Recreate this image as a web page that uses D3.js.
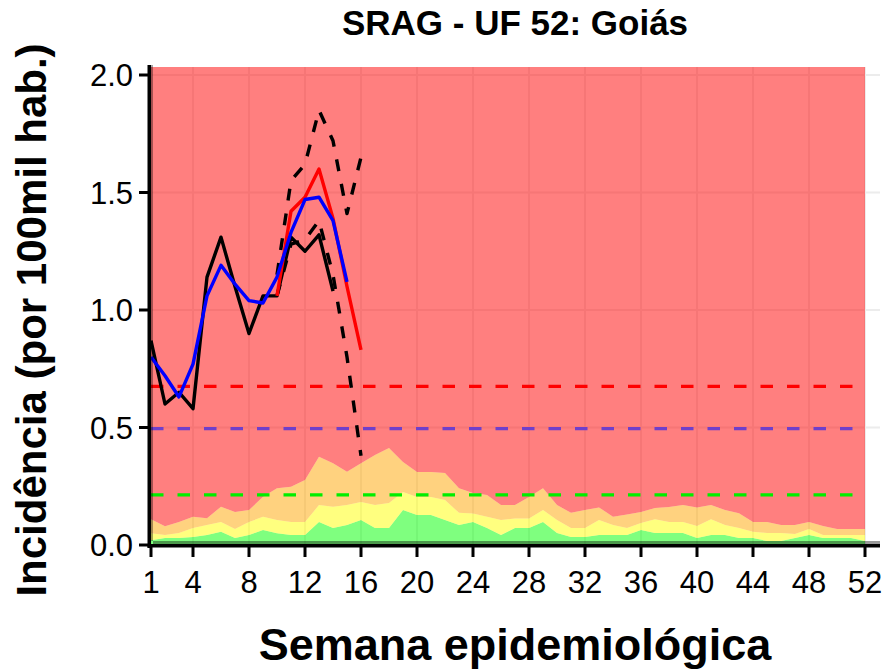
<!DOCTYPE html>
<html><head><meta charset="utf-8">
<script src="https://cdn.jsdelivr.net/npm/d3@7"></script>
<style>
body{margin:0;background:#fff}
svg{display:block}
text{font-family:"Liberation Sans",Arial,Helvetica,sans-serif;fill:#000}
</style>
</head><body>
<svg id="chart" width="886" height="669"></svg>
<script>
// ---------- data ----------
const weeks = [1,2,3,4,5,6,7,8,9,10,11,12,13,14,15,16,17,18,19,20,21,22,23,24,25,26,
  27,28,29,30,31,32,33,34,35,36,37,38,39,40,41,42,43,44,45,46,47,48,49,50,51,52];
const greenTop = [0.020,0.030,0.030,0.034,0.043,0.056,0.030,0.043,0.064,0.050,0.043,0.043,0.098,
  0.072,0.085,0.106,0.072,0.072,0.149,0.128,0.128,0.106,0.085,0.098,0.072,0.043,
  0.072,0.072,0.098,0.051,0.034,0.034,0.043,0.043,0.043,0.064,0.051,0.051,0.051,
  0.030,0.043,0.043,0.030,0.030,0.017,0.017,0.030,0.043,0.030,0.030,0.030,0.017];
const yellowTop = [0.050,0.043,0.051,0.072,0.085,0.098,0.068,0.098,0.120,0.106,0.098,0.098,0.170,
  0.163,0.170,0.183,0.170,0.179,0.226,0.204,0.204,0.191,0.137,0.134,0.120,0.106,
  0.113,0.113,0.149,0.106,0.072,0.072,0.106,0.085,0.072,0.094,0.110,0.098,0.098,
  0.081,0.110,0.085,0.072,0.056,0.051,0.051,0.047,0.068,0.043,0.043,0.043,0.043];
const orangeTop = [0.110,0.080,0.098,0.120,0.114,0.163,0.140,0.149,0.205,0.242,0.248,0.277,0.376,
  0.348,0.312,0.348,0.383,0.413,0.353,0.311,0.311,0.306,0.242,0.221,0.213,0.170,
  0.170,0.204,0.242,0.170,0.137,0.149,0.160,0.120,0.130,0.140,0.157,0.162,0.170,
  0.160,0.170,0.149,0.135,0.098,0.098,0.085,0.085,0.098,0.081,0.068,0.068,0.068];

const observedWeeks = [1,2,3,4,5,6,7,8,9,10,11,12,13,14];
const observed = [0.87,0.60,0.65,0.58,1.14,1.31,1.10,0.90,1.06,1.06,1.31,1.25,1.32,1.08];
const movingAvgWeeks = [1,2,3,4,5,6,7,8,9,10,11,12,13,14,15];
const movingAvg = [0.80,0.72,0.63,0.77,1.06,1.19,1.11,1.04,1.03,1.14,1.33,1.47,1.48,1.38,1.12];
const estimateWeeks = [10,11,12,13,14,15,16];
const estimate = [1.06,1.42,1.48,1.60,1.39,1.10,0.83];
const ciUpper = [1.15,1.55,1.62,1.85,1.72,1.41,1.65];
const ciLower = [1.06,1.28,1.30,1.38,1.15,0.80,0.38];

const thresholdNames = ["muito alta","alta","pré-epidêmica"];
const thresholdValues = [0.675,0.495,0.213];
const thresholdColors = ["#ff0000","#6f3fcb","#00ee00"];

const xTicks = [1,4,8,12,16,20,24,28,32,36,40,44,48,52];
const yTicks = [0,0.5,1,1.5,2];
const yTickLabels = ["0.0","0.5","1.0","1.5","2.0"];
const titleText = "SRAG - UF 52: Goiás";
const xTitle = "Semana epidemiológica";
const yTitle = "Incidência (por 100mil hab.)";

// ---------- layout ----------
const svg = d3.select("#chart");
const panel = {left:151, right:880, top:67, bottom:545};
const x = d3.scaleLinear().domain([1,52]).range([151,865]);
const y = d3.scaleLinear().domain([0,2]).range([545,75]);
const yTop = y.invert(panel.top);

// grid
const grid = svg.append("g");
grid.selectAll(".hg").data(yTicks.slice(1)).join("line")
  .attr("x1",panel.left).attr("x2",panel.right)
  .attr("y1",d=>y(d)).attr("y2",d=>y(d))
  .attr("stroke","#ececec").attr("stroke-width",2);
grid.selectAll(".vg").data(xTicks).join("line")
  .attr("x1",d=>x(d)).attr("x2",d=>x(d))
  .attr("y1",panel.top).attr("y2",panel.bottom)
  .attr("stroke","#ececec").attr("stroke-width",2);

// bands
const bands = [
  {lo:()=>0, hi:(i)=>greenTop[i], color:"#00ff00"},
  {lo:(i)=>greenTop[i], hi:(i)=>yellowTop[i], color:"#ffff00"},
  {lo:(i)=>yellowTop[i], hi:(i)=>orangeTop[i], color:"#ffa500"},
  {lo:(i)=>orangeTop[i], hi:()=>yTop, color:"#ff0000"}
];
bands.forEach(b=>{
  const area = d3.area()
    .x((d,i)=>x(d))
    .y0((d,i)=>y(b.lo(i)))
    .y1((d,i)=>y(b.hi(i)));
  svg.append("path").datum(weeks).attr("d",area)
    .attr("fill",b.color).attr("fill-opacity",0.5).attr("stroke","none");
});

// thresholds
svg.selectAll(".thr").data(thresholdValues).join("line")
  .attr("x1",x(1)).attr("x2",x(52))
  .attr("y1",d=>y(d)).attr("y2",d=>y(d))
  .attr("stroke",(d,i)=>thresholdColors[i]).attr("stroke-width",3.2)
  .attr("stroke-dasharray","12.5,14");

// lines
function drawLine(ws, vals, color, dash){
  const line = d3.line().x((d,i)=>x(ws[i])).y(d=>y(d));
  svg.append("path").datum(vals).attr("d",line)
    .attr("fill","none").attr("stroke",color).attr("stroke-width",3.4)
    .attr("stroke-linejoin","round")
    .attr("stroke-dasharray",dash||null);
}
drawLine(observedWeeks, observed, "#000");
drawLine(estimateWeeks, ciUpper, "#000", "12,13");
drawLine(estimateWeeks, ciLower, "#000", "12,13");
drawLine(estimateWeeks, estimate, "#ff0000");
drawLine(movingAvgWeeks, movingAvg, "#0000ff");

// axes
svg.append("rect").attr("x",147.5).attr("y",65).attr("width",3.5).attr("height",483).attr("fill","#000");
svg.append("rect").attr("x",151).attr("y",65).attr("width",2).attr("height",476).attr("fill","#000").attr("fill-opacity",0.35);
svg.append("rect").attr("x",147.5).attr("y",544).attr("width",732.5).attr("height",3.5).attr("fill","#000");
svg.append("rect").attr("x",153).attr("y",541).attr("width",727).attr("height",3).attr("fill","#000").attr("fill-opacity",0.4);

svg.selectAll(".yt").data(yTicks).join("line")
  .attr("x1",139).attr("x2",148).attr("y1",d=>y(d)).attr("y2",d=>y(d))
  .attr("stroke","#000").attr("stroke-width",3);
svg.selectAll(".xt").data(xTicks).join("line")
  .attr("x1",d=>x(d)).attr("x2",d=>x(d)).attr("y1",547).attr("y2",557)
  .attr("stroke","#000").attr("stroke-width",3);

svg.selectAll(".yl").data(yTicks).join("text")
  .attr("x",133).attr("y",d=>y(d)).attr("dy","0.36em")
  .attr("text-anchor","end").attr("font-size",31)
  .text((d,i)=>yTickLabels[i]);
svg.selectAll(".xl").data(xTicks).join("text")
  .attr("x",d=>x(d)).attr("y",593)
  .attr("text-anchor","middle").attr("font-size",31)
  .text(d=>d);

// titles
svg.append("text").attr("x",515).attr("y",35).attr("text-anchor","middle")
  .attr("font-size",35).attr("font-weight","bold").text(titleText);
svg.append("text").attr("x",515).attr("y",660).attr("text-anchor","middle")
  .attr("font-size",45).attr("font-weight","bold").text(xTitle);
svg.append("text").attr("transform","translate(46,320) rotate(-90)")
  .attr("text-anchor","middle")
  .attr("font-size",42).attr("font-weight","bold").text(yTitle);
</script>
</body></html>
